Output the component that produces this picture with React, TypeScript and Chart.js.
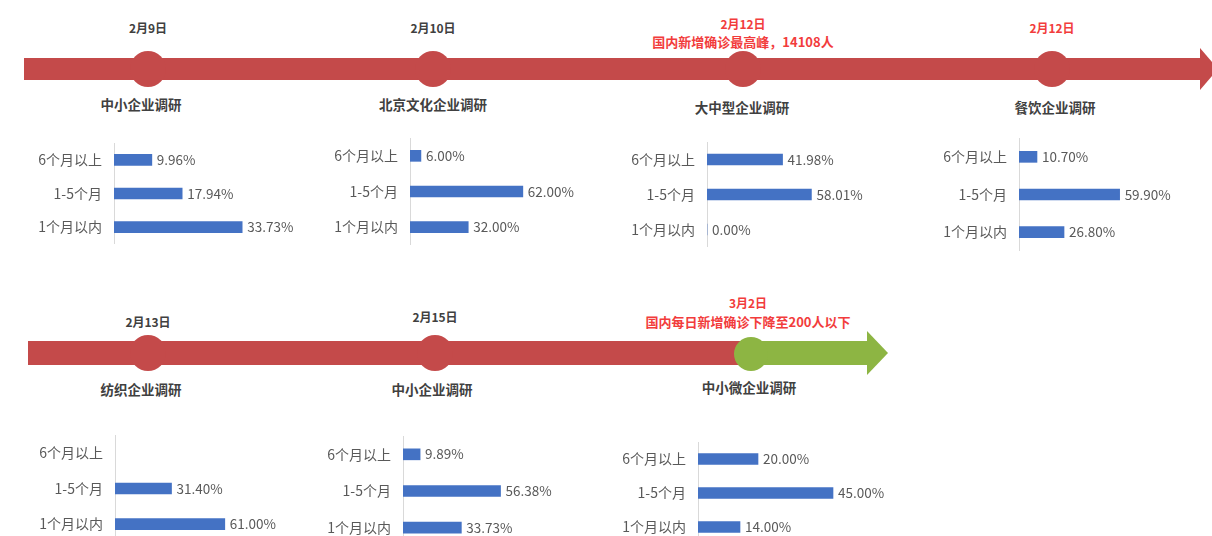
import React, { useEffect, useRef } from 'react';
import { Chart, registerables } from 'chart.js';
Chart.register(...registerables);

// ---------- data ----------
const categories = ['6个月以上', '1-5个月', '1个月以内'];

const topDates = ['2月9日', '2月10日', '2月12日', '2月12日'];
const topNotes = ['', '', '国内新增确诊最高峰，14108人', ''];
const topSurveys = ['中小企业调研', '北京文化企业调研', '大中型企业调研', '餐饮企业调研'];

const bottomDates = ['2月13日', '2月15日', '3月2日'];
const bottomNotes = ['', '', '国内每日新增确诊下降至200人以下'];
const bottomSurveys = ['纺织企业调研', '中小企业调研', '中小微企业调研'];

const sme0209 = [9.96, 17.94, 33.73];
const culture0210 = [6.0, 62.0, 32.0];
const large0212 = [41.98, 58.01, 0.0];
const catering0212 = [10.7, 59.9, 26.8];
const textile0213 = [null, 31.4, 61.0];
const sme0215 = [9.89, 56.38, 33.73];
const micro0302 = [20.0, 45.0, 14.0];

// ---------- layout / styles ----------
const FONT = "'Noto Sans CJK SC', 'Noto Sans', sans-serif";
const RED = '#C44A4A';
const GREEN = '#8DB543';
const NOTE_RED = '#F23C3C';
const BLUE = '#4472C4';
const TEXT = '#595959';

const topLayout = [
  { cx: 148, dateY: 28, noteY: 0, nameX: 141, nameY: 105, red: false },
  { cx: 433, dateY: 28, noteY: 0, nameX: 433, nameY: 105, red: false },
  { cx: 743, dateY: 24, noteY: 41, nameX: 742, nameY: 108, red: true },
  { cx: 1052, dateY: 28, noteY: 0, nameX: 1055, nameY: 108, red: true },
];
const bottomLayout = [
  { cx: 148, dateY: 322, noteY: 0, nameX: 141, nameY: 390, red: false },
  { cx: 435, dateY: 317, noteY: 0, nameX: 432, nameY: 390, red: false },
  { cx: 748, dateY: 303, noteY: 321, nameX: 749, nameY: 388, red: true },
];

const chartLayouts = [
  { values: sme0209, axisX: 114, firstY: 160, spacing: 33.5, ppp: 3.8 },
  { values: culture0210, axisX: 410, firstY: 156, spacing: 35.5, ppp: 1.82 },
  { values: large0212, axisX: 707, firstY: 159, spacing: 35, ppp: 1.8 },
  { values: catering0212, axisX: 1019, firstY: 157, spacing: 37.5, ppp: 1.68 },
  { values: textile0213, axisX: 115, firstY: 453, spacing: 35.5, ppp: 1.8 },
  { values: sme0215, axisX: 403, firstY: 454, spacing: 36.5, ppp: 1.73 },
  { values: micro0302, axisX: 698, firstY: 459, spacing: 34, ppp: 3.0 },
];

const AXIS_W = 110;
const AREA_W = 160;
const PAD_R = 75;

const valueLabels = {
  id: 'valueLabels',
  afterDatasetsDraw(chart: any) {
    const ctx = chart.ctx;
    const meta = chart.getDatasetMeta(0);
    const data = chart.data.datasets[0].data;
    ctx.save();
    ctx.font = `13.5px ${FONT}`;
    ctx.fillStyle = TEXT;
    ctx.textBaseline = 'middle';
    ctx.textAlign = 'left';
    meta.data.forEach((el: any, i: number) => {
      const v = data[i];
      if (v === null || v === undefined) return;
      ctx.fillText(Number(v).toFixed(2) + '%', el.x + 5, el.y);
    });
    ctx.restore();
  },
};

function MiniBar({ values, axisX, firstY, spacing, ppp }: any) {
  const ref = useRef<HTMLCanvasElement | null>(null);
  const w = AXIS_W + AREA_W + PAD_R;
  const h = Math.round(spacing * 3);
  useEffect(() => {
    if (!ref.current) return;
    const chart = new Chart(ref.current, {
      type: 'bar',
      data: {
        labels: categories,
        datasets: [
          {
            data: values,
            backgroundColor: BLUE,
            borderWidth: 0,
            barThickness: 11,
          },
        ],
      },
      options: {
        indexAxis: 'y',
        responsive: false,
        maintainAspectRatio: false,
        animation: false,
        layout: { padding: { left: 0, right: PAD_R, top: 0, bottom: 0 } },
        plugins: { legend: { display: false }, tooltip: { enabled: false } },
        scales: {
          x: { display: false, min: 0, max: AREA_W / ppp },
          y: {
            afterFit: (s: any) => {
              s.width = AXIS_W;
              s.paddingTop = 0;
              s.paddingBottom = 0;
            },
            grid: { display: false, drawTicks: false },
            border: { display: true, color: '#D9D9D9', width: 1 },
            ticks: { color: TEXT, font: { family: FONT, size: 14 }, padding: 12 },
          },
        },
      },
      plugins: [valueLabels],
    } as any);
    return () => chart.destroy();
  }, []);
  return (
    <canvas
      ref={ref}
      width={w}
      height={h}
      style={{
        position: 'absolute',
        left: axisX - AXIS_W,
        top: Math.round(firstY - spacing / 2),
        width: w,
        height: h,
      }}
    />
  );
}

function Label({ x, y, text, color, size, weight }: any) {
  return (
    <div
      style={{
        position: 'absolute',
        left: x,
        top: y,
        transform: 'translate(-50%, -50%)',
        whiteSpace: 'nowrap',
        fontFamily: FONT,
        fontSize: size,
        fontWeight: weight,
        color,
        lineHeight: 1,
      }}
    >
      {text}
    </div>
  );
}

function Circle({ cx, cy, r, color }: any) {
  return (
    <div
      style={{
        position: 'absolute',
        left: cx - r,
        top: cy - r,
        width: r * 2,
        height: r * 2,
        borderRadius: '50%',
        background: color,
      }}
    />
  );
}

function Box({ l, t, w, h, color }: any) {
  return <div style={{ position: 'absolute', left: l, top: t, width: w, height: h, background: color }} />;
}

function Head({ l, t, half, len, color }: any) {
  return (
    <div
      style={{
        position: 'absolute',
        left: l,
        top: t,
        width: 0,
        height: 0,
        borderTop: `${half}px solid transparent`,
        borderBottom: `${half}px solid transparent`,
        borderLeft: `${len}px solid ${color}`,
      }}
    />
  );
}

function EventTexts({ layout, dates, notes, names }: any) {
  return (
    <>
      {layout.map((e: any, i: number) => (
        <React.Fragment key={i}>
          <Label x={e.cx} y={e.dateY} text={dates[i]} color={e.red ? NOTE_RED : '#404040'} size={12} weight={700} />
          {notes[i] ? <Label x={e.cx} y={e.noteY} text={notes[i]} color={NOTE_RED} size={13} weight={700} /> : null}
          <Label x={e.nameX} y={e.nameY} text={names[i]} color="#404040" size={13.5} weight={600} />
        </React.Fragment>
      ))}
    </>
  );
}

export default function App() {
  return (
    <div
      style={{
        position: 'absolute',
        left: 0,
        top: 0,
        width: 1212,
        height: 536,
        background: '#ffffff',
        overflow: 'hidden',
      }}
    >
      {/* top timeline */}
      <Box l={24} t={58} w={1177} h={22} color={RED} />
      <Head l={1200} t={48} half={21} len={18} color={RED} />
      {topLayout.map((e, i) => (
        <Circle key={i} cx={e.cx} cy={69} r={18} color={RED} />
      ))}
      <EventTexts layout={topLayout} dates={topDates} notes={topNotes} names={topSurveys} />

      {/* bottom timeline */}
      <Box l={28} t={341} w={724} h={24} color={RED} />
      <Box l={750} t={341} w={118} h={24} color={GREEN} />
      <Head l={867} t={331} half={22} len={21} color={GREEN} />
      <Circle cx={148} cy={353} r={18} color={RED} />
      <Circle cx={435} cy={353} r={18} color={RED} />
      <Circle cx={751} cy={354} r={17} color={GREEN} />
      <EventTexts layout={bottomLayout} dates={bottomDates} notes={bottomNotes} names={bottomSurveys} />

      {chartLayouts.map((c, i) => (
        <MiniBar key={i} {...c} />
      ))}
    </div>
  );
}
